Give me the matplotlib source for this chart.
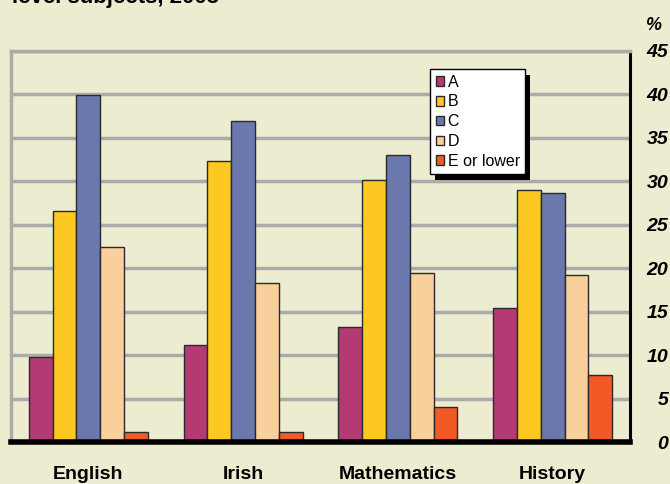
import matplotlib
matplotlib.use("Agg")
import matplotlib.pyplot as plt
import numpy as np
from matplotlib.patches import Rectangle

categories = ["English", "Irish", "Mathematics", "History"]
series_names = ["A", "B", "C", "D", "E or lower"]
grade_A = [9.8, 11.2, 13.3, 15.4]
grade_B = [26.6, 32.3, 30.1, 29.0]
grade_C = [39.9, 36.9, 33.0, 28.7]
grade_D = [22.4, 18.3, 19.5, 19.2]
grade_E = [1.2, 1.2, 4.1, 7.7]
series_values = [grade_A, grade_B, grade_C, grade_D, grade_E]
colors = ["#B33A73", "#FCC821", "#6B78AE", "#F9CF9C", "#F15A25"]
yticks = [0, 5, 10, 15, 20, 25, 30, 35, 40, 45]

BG = "#ECECD0"
GRID = "#ABABAB"
FONT = "Liberation Sans"

W, H = 670, 484
fig = plt.figure(figsize=(W / 100, H / 100), dpi=100, facecolor=BG)
ax = fig.add_axes([11 / W, 1 - 442.4 / H, (630 - 11) / W, (442.4 - 50.7) / H])
ax.set_facecolor(BG)

x = np.arange(len(categories))
bw = 0.154
for i, (name, vals, c) in enumerate(zip(series_names, series_values, colors)):
    ax.bar(x + (i - 2) * bw, vals, width=bw, color=c, edgecolor="#2a2a2a",
           linewidth=1.0, label=name, zorder=3)

ax.set_xlim(-0.5, 3.5)
ax.set_ylim(0, 45)
ax.set_yticks(yticks)
ax.yaxis.grid(True, color=GRID, linewidth=2.5, zorder=0)
ax.set_axisbelow(True)

ax.yaxis.tick_right()
ax.tick_params(axis="y", length=0, pad=27.5)
ax.set_yticklabels([str(v) for v in yticks], fontfamily=FONT, fontweight="bold",
                   fontstyle="italic", fontsize=14, ha="right")
ax.set_xticks(x)
ax.set_xticklabels(categories, fontfamily=FONT, fontweight="bold", fontsize=14)
ax.tick_params(axis="x", length=0, pad=17)

for s in ["left", "top"]:
    ax.spines[s].set_color(GRID)
    ax.spines[s].set_linewidth(2.5)
ax.spines["right"].set_color("black")
ax.spines["right"].set_linewidth(2.2)
ax.spines["bottom"].set_color("black")
ax.spines["bottom"].set_linewidth(4)
ax.spines["bottom"].set_zorder(5)

fig.text(645 / W, 1 - 25 / H, "%", fontfamily=FONT, fontweight="bold",
         fontstyle="italic", fontsize=13, ha="left", va="center")
fig.text(12 / W, 1 - 3 / H, "level subjects, 2005", fontfamily=FONT,
         fontweight="bold", fontsize=16, ha="left", va="baseline")

leg = ax.legend(loc="upper left", bbox_to_anchor=((430 - 11) / (630 - 11), 1 - (69 - 50.7) / (442.4 - 50.7)),
                prop={"family": FONT, "size": 11.5}, frameon=True, fancybox=False,
                handlelength=0.55, handleheight=0.55, handletextpad=0.2,
                labelspacing=0.3, borderpad=0.35, borderaxespad=0.0)
leg.get_frame().set_edgecolor("black")
leg.get_frame().set_linewidth(1.0)
leg.get_frame().set_facecolor("white")
leg.get_frame().set_alpha(1)
leg.set_zorder(10)

fig.canvas.draw()
bb = leg.get_window_extent()
sh = Rectangle((bb.x0 + 5, bb.y0 - 6), bb.width, bb.height, transform=None,
               facecolor="black", edgecolor="none", zorder=9)
ax.add_artist(sh)
sh.set_clip_on(False)

fig.savefig("out.png", dpi=100, facecolor=BG)
